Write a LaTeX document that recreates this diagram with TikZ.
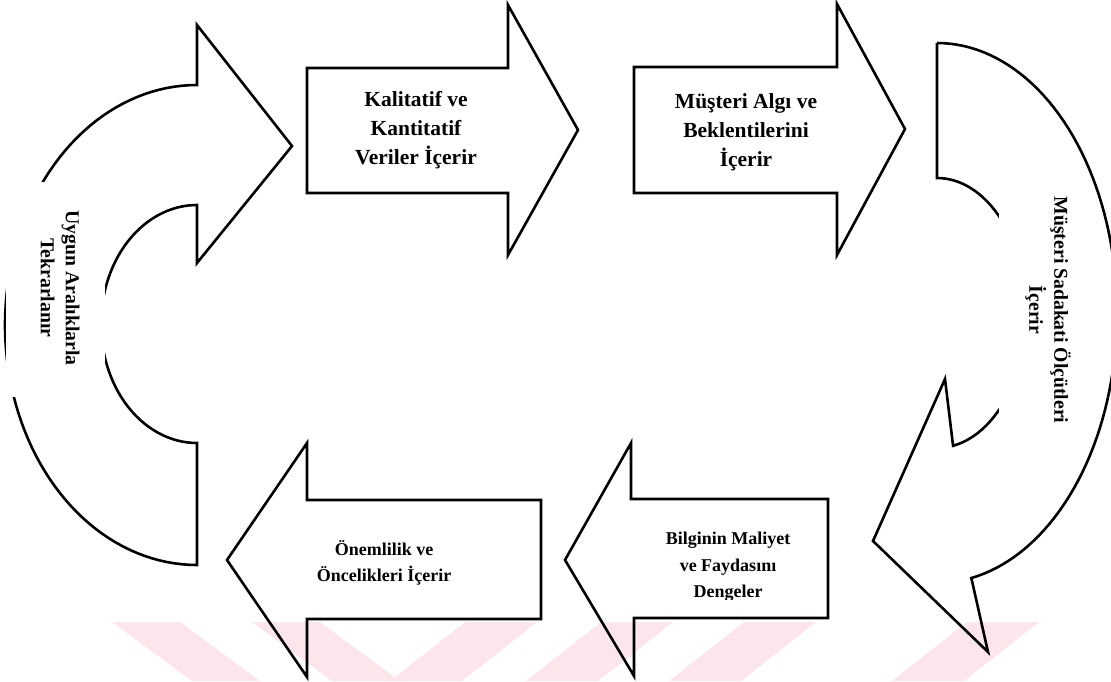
\documentclass[tikz,border=0pt]{standalone}
\usepackage{fontspec}
\setmainfont{Liberation Serif}
\definecolor{wmpink}{RGB}{252,229,235}
\tikzset{
  blockline/.style={draw=black, line width=2.6pt, line join=miter, miter limit=10},
  toptext/.style={font=\bfseries\fontsize{21.5}{29}\selectfont, align=center, inner sep=0pt},
  lowtext/.style={font=\bfseries\fontsize{18}{26.5}\selectfont, align=center, inner sep=0pt},
  sidetext/.style={font=\bfseries\fontsize{19.7}{25}\selectfont, align=center, rotate=-90,
                   inner sep=0pt},
  backslant/.style={fill=wmpink, draw=none},
}
\begin{document}
\begin{tikzpicture}[x=1pt,y=-1pt]
\useasboundingbox (0,0) rectangle (1111,681);

% faint stripes along the bottom edge
\foreach \s in {112,252}
  \fill[backslant] (\s,622) -- (\s+68,622) -- (\s+148,681) -- (\s+80,681) -- cycle;
\foreach \s in {465,601,744,967}
  \fill[backslant] (\s,622) -- (\s+72,622) -- (\s-3,681) -- (\s-75,681) -- cycle;

% straight block arrows, top row (pointing right)
\draw[blockline] (307,68) -- (508,68) -- (508,5) -- (578,130) -- (508,255)
  -- (508,193) -- (307,193) -- cycle;
\draw[blockline] (634,67) -- (837,67) -- (837,4) -- (905,129) -- (837,255)
  -- (837,193) -- (634,193) -- cycle;

% straight block arrows, bottom row (pointing left)
\draw[blockline] (541,500) -- (307,500) -- (307,443) -- (227,560) -- (307,677)
  -- (307,619) -- (541,619) -- cycle;
\draw[blockline] (828,499) -- (631,499) -- (631,443) -- (565,560) -- (634,676)
  -- (634,618) -- (828,618) -- cycle;

% curved arrow on the left (turning back up and to the right)
\draw[blockline] (197,85) -- (197,25) -- (292,146) -- (197,263) -- (197,205)
  -- plot[domain=270:90, samples=60, variable=\t]
       ({197+96*cos(\t)}, {324+119*sin(\t)})
  -- (197,565)
  -- plot[domain=90:270, samples=80, variable=\t]
       ({197+192*cos(\t)}, {325+240*sin(\t)})
  -- cycle;

% curved arrow on the right (turning down and to the left)
\draw[blockline] (937,43) -- (937,178)
  -- plot[domain=270:439.6, samples=60, variable=\t]
       ({937+89*cos(\t)}, {313+135*sin(\t)})
  -- (945,379) -- (873,541) -- (988,652)
  -- plot[domain=79:-90, samples=80, variable=\t]
       ({937+180*cos(\t)}, {313+270*sin(\t)})
  -- cycle;

% white text panels laid over the curved arrows
\fill[white] (6,182) rectangle (105,397);
\fill[white] (999,195) rectangle (1096,425);

% labels
\node[toptext] (kal) at (416,130) {Kalitatif ve\\Kantitatif\\Veriler İçerir};
\node[toptext] (mus) at (746,132) {Müşteri Algı ve\\Beklentilerini\\İçerir};
\node[lowtext] (onem) at (384,563) {Önemlilik ve\\Öncelikleri İçerir};
\begin{scope}
  \clip (631,499) rectangle (828,599);
  \node[lowtext] (bilg) at (728,567) {Bilginin Maliyet\\ve Faydasını\\Dengeler};
\end{scope}
\node[sidetext] (uygun) at (60,288) {Uygun Aralıklarla\\Tekrarlanır};
\node[sidetext] (sadak) at (1048,310) {Müşteri Sadakati Ölçütleri\\İçerir};
\end{tikzpicture}
\end{document}
